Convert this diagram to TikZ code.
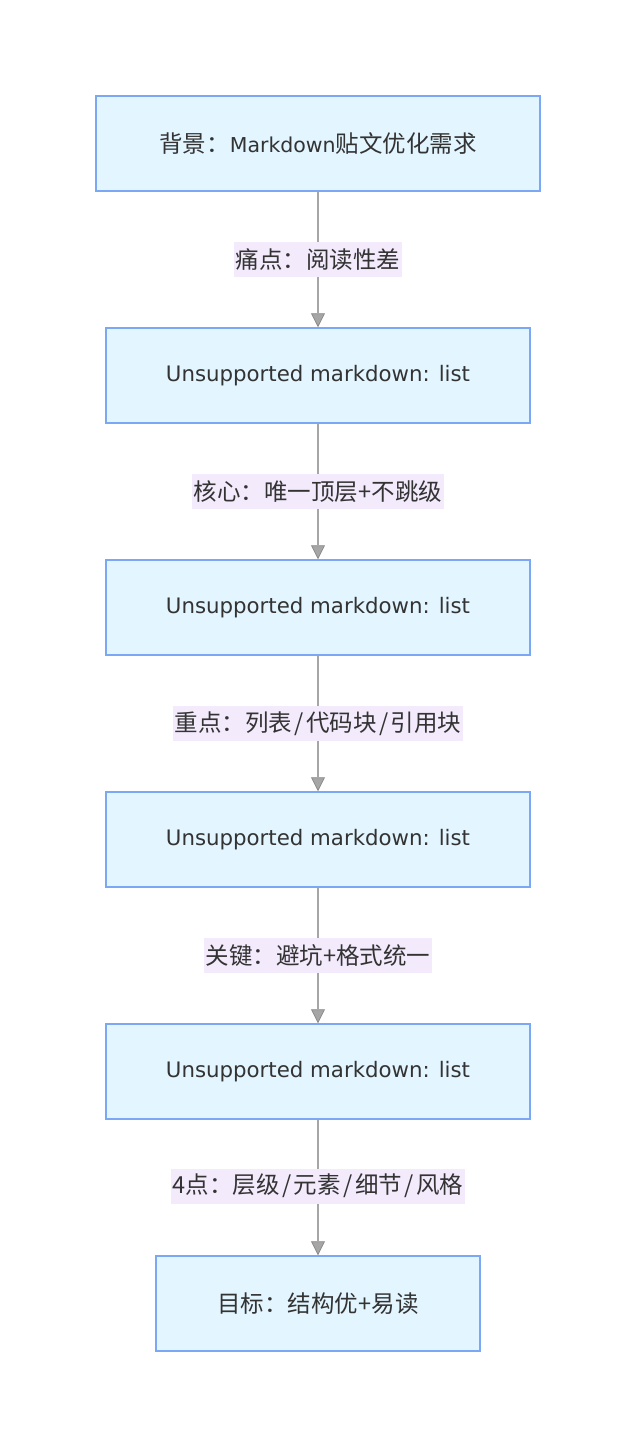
\documentclass[tikz,border=0pt]{standalone}
\usepackage{fontspec}
\setmainfont{DejaVu Sans}
\newfontfamily\cjk{Noto Sans CJK SC}
\usetikzlibrary{arrows.meta}
\definecolor{boxfill}{HTML}{E3F5FE}
\definecolor{boxline}{HTML}{7BA8F5}
\definecolor{lblfill}{HTML}{F3EAFC}
\definecolor{txt}{HTML}{333333}
\definecolor{edge}{HTML}{A6A6A6}
\definecolor{tipline}{HTML}{8C8C8C}
\newcommand{\slsh}{\hspace{2.5pt}/\hspace{2.5pt}}
\begin{document}
\begin{tikzpicture}[x=1pt,y=-1pt,
  boxnode/.style={draw=boxline,line width=1.5pt,fill=boxfill,minimum height=95pt,text=txt,font=\fontsize{23.5}{28}\selectfont,inner sep=0pt},
  lbl/.style={fill=lblfill,text=txt,font=\fontsize{23.5}{28}\selectfont\cjk,inner xsep=1.5pt,inner ysep=0pt,minimum height=35pt},
  conn/.style={draw=edge,line width=1.3pt,-{Triangle[width=14pt,length=14pt,fill=edge,color=tipline,line width=0.8pt]}}]
\useasboundingbox (0,0) rectangle (636,1448);
\node[boxnode,minimum width=444pt] (n1) at (318,143.5) {{\cjk 背景：}\fontsize{20.5}{24}\selectfont Markdown{\fontsize{23.5}{28}\selectfont\cjk 贴文优化需求}};
\node[boxnode,minimum width=424pt] (n2) at (318,375.5) {\fontsize{21.3}{26}\selectfont Unsupported markdown: list};
\node[boxnode,minimum width=424pt] (n3) at (318,607.5) {\fontsize{21.3}{26}\selectfont Unsupported markdown: list};
\node[boxnode,minimum width=424pt] (n4) at (318,839.5) {\fontsize{21.3}{26}\selectfont Unsupported markdown: list};
\node[boxnode,minimum width=424pt] (n5) at (318,1071.5) {\fontsize{21.3}{26}\selectfont Unsupported markdown: list};
\node[boxnode,minimum width=324pt,font=\fontsize{23.5}{28}\selectfont\cjk] (n6) at (318,1303.5) {目标：结构优+易读};
\draw[conn] (n1) -- node[lbl] (l1) {痛点：阅读性差} (n2);
\draw[conn] (n2) -- node[lbl] (l2) {核心：唯一顶层+不跳级} (n3);
\draw[conn] (n3) -- node[lbl] (l3) {重点：列表\slsh 代码块\slsh 引用块} (n4);
\draw[conn] (n4) -- node[lbl] (l4) {关键：避坑+格式统一} (n5);
\draw[conn] (n5) -- node[lbl,pos=0.49] (l5) {4点：层级\slsh 元素\slsh 细节\slsh 风格} (n6);
\end{tikzpicture}
\end{document}
